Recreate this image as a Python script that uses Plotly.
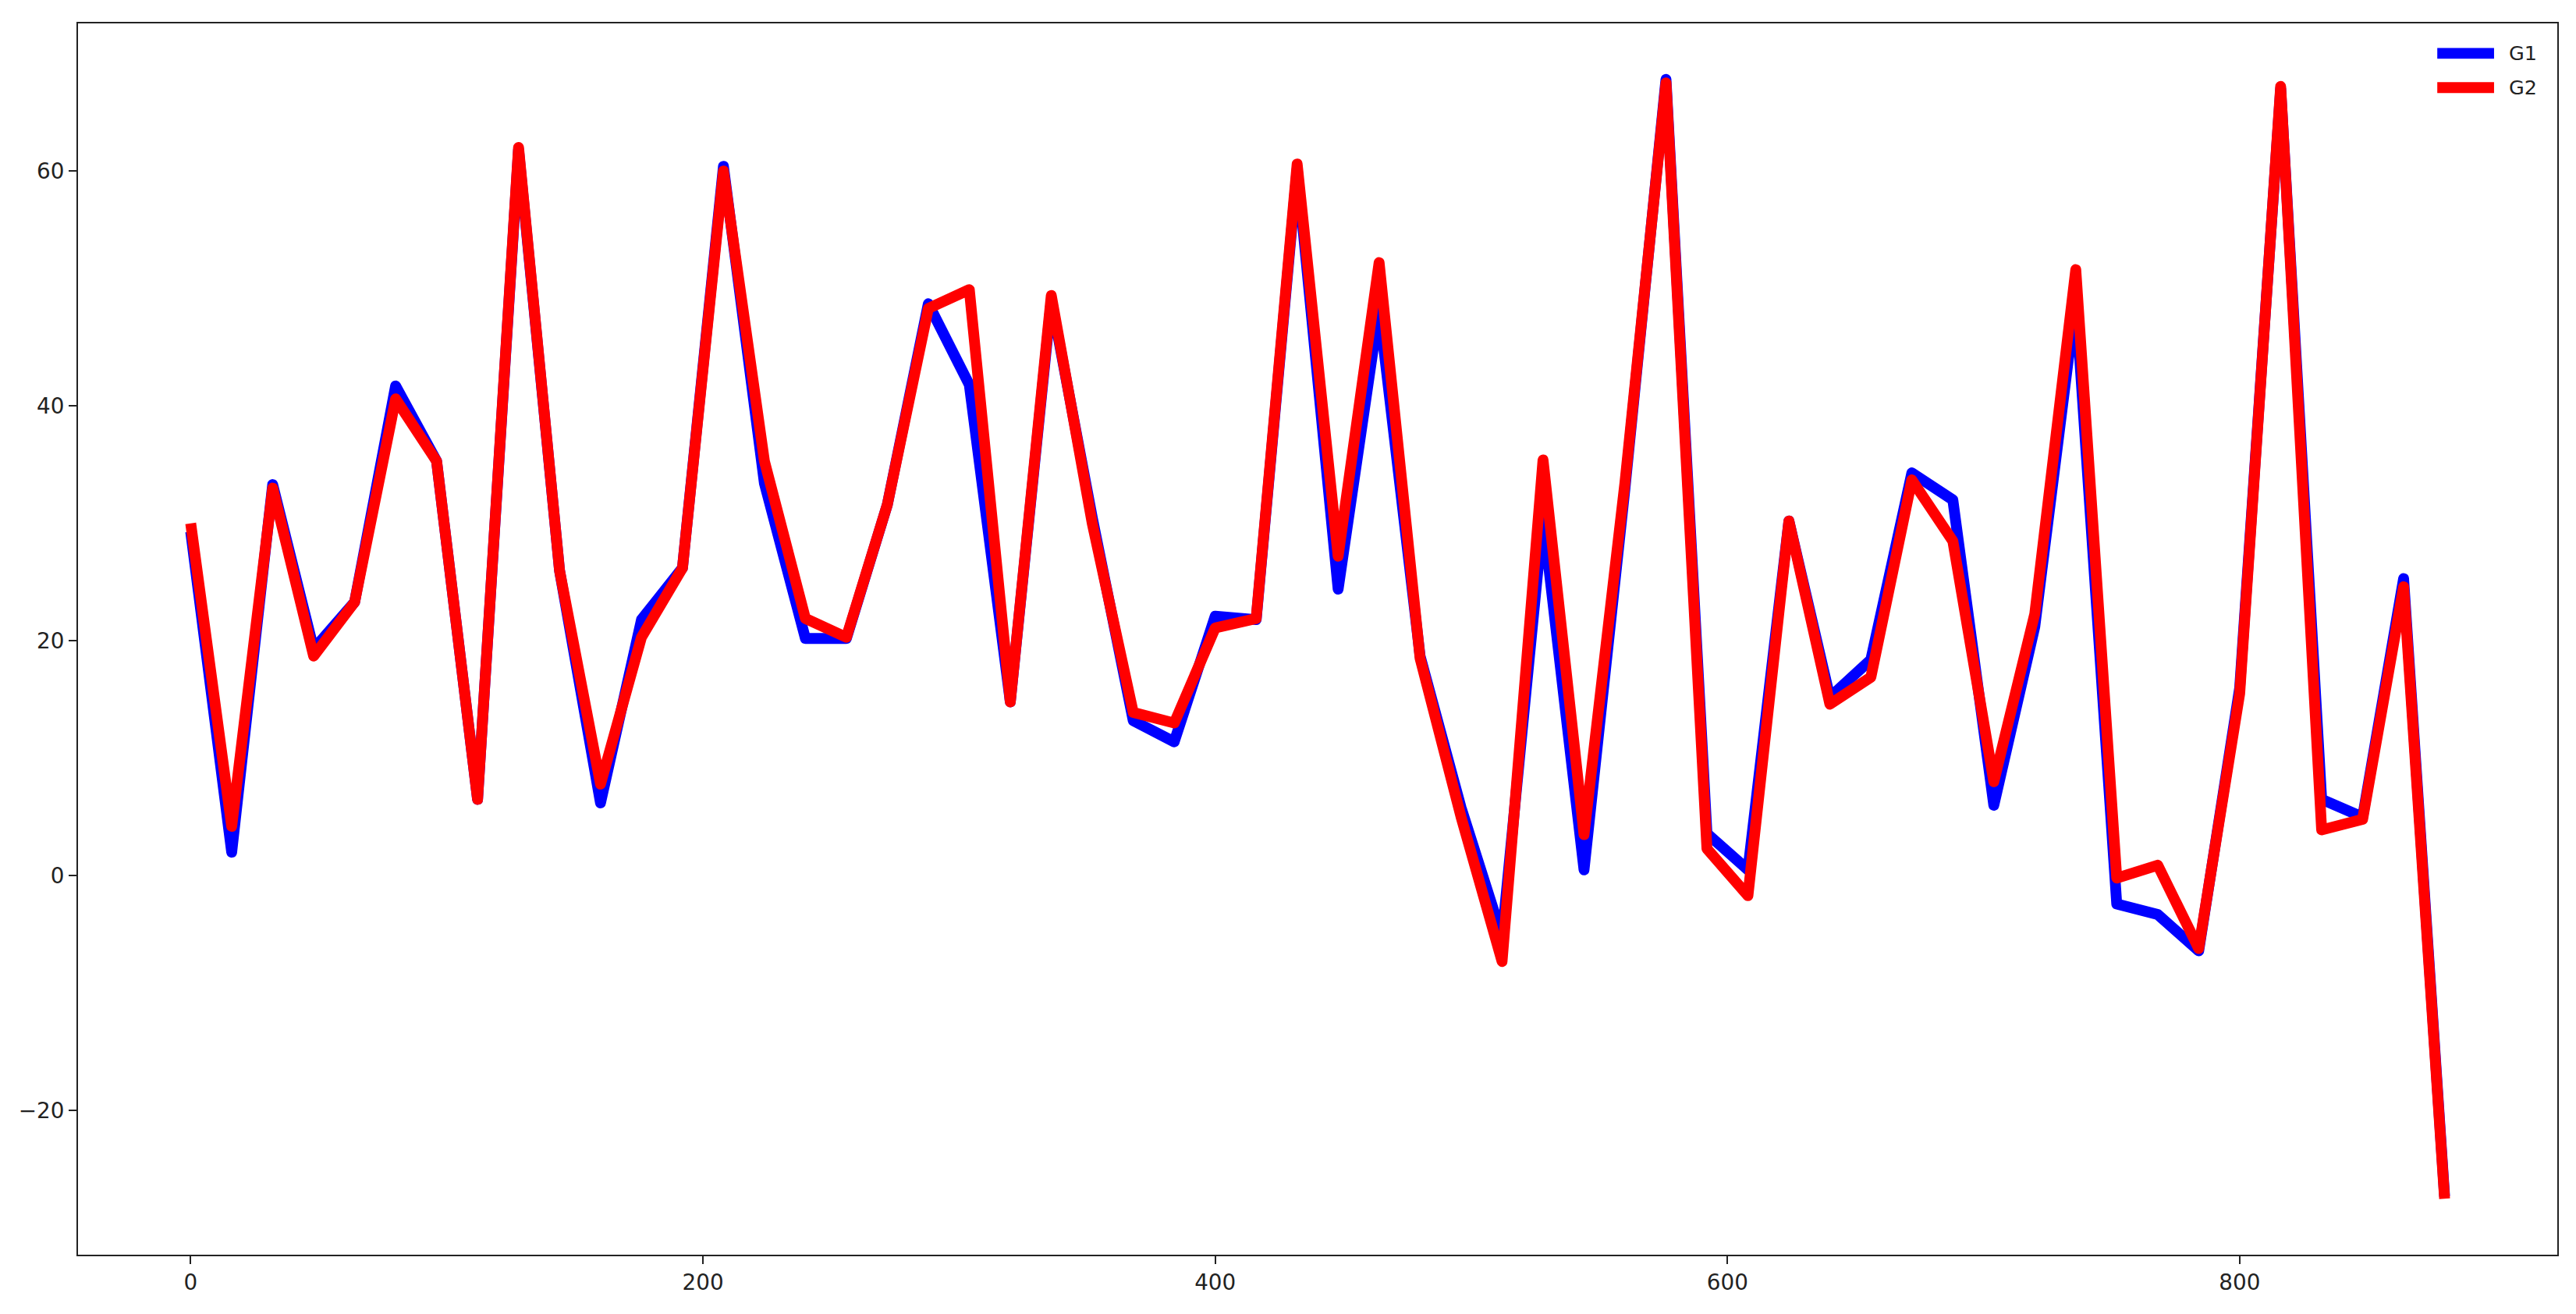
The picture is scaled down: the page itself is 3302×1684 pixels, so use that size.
import plotly.graph_objects as go

x_vals = [16 * i for i in range(56)]

g1 = [29.3, 2.0, 33.3, 19.3, 23.3, 41.7, 35.3, 6.5, 61.8, 26.0,
      6.2, 21.8, 26.2, 60.4, 33.4, 20.2, 20.2, 31.6, 48.7, 41.8,
      14.8, 49.0, 30.5, 13.2, 11.4, 22.1, 21.8, 60.2, 24.4, 48.3,
      18.7, 5.8, -5.2, 30.5, 0.5, 33.0, 67.8, 3.6, 0.5, 30.2,
      15.2, 18.4, 34.3, 32.0, 6.0, 21.2, 49.0, -2.4, -3.3, -6.4,
      16.0, 67.0, 6.5, 5.0, 25.3, -27.3]

g2 = [30.0, 4.2, 33.0, 18.7, 23.3, 40.6, 35.3, 6.5, 62.0, 26.0,
      7.8, 20.3, 26.2, 60.0, 35.3, 21.9, 20.3, 31.6, 48.3, 49.9,
      14.8, 49.4, 30.0, 13.9, 13.0, 21.1, 21.9, 60.6, 27.2, 52.2,
      18.5, 5.0, -7.3, 35.4, 3.5, 33.5, 67.5, 2.3, -1.7, 30.2,
      14.6, 16.9, 33.7, 28.5, 8.0, 22.3, 51.6, -0.2, 0.9, -6.2,
      15.5, 67.2, 3.9, 4.8, 24.6, -27.5]

series_names = ["G1", "G2"]
series_colors = ["#0000ff", "#ff0000"]
LW = 13.9

fig = go.Figure()
for name, ys, col in zip(series_names, [g1, g2], series_colors):
    fig.add_trace(go.Scatter(x=x_vals, y=ys, mode="lines", name=name,
                             line=dict(color=col, width=LW), showlegend=False))

# matplotlib-like 5% margins
xmin, xmax = min(x_vals), max(x_vals)
ymin, ymax = min(g1 + g2), max(g1 + g2)
xpad = 0.05 * (xmax - xmin)
ypad = 0.05 * (ymax - ymin)

axis_common = dict(showgrid=False, zeroline=False, showline=True, mirror=True,
                   linecolor="#222222", linewidth=2, ticks="outside",
                   ticklen=10, tickwidth=2, tickcolor="#222222",
                   tickfont=dict(family="DejaVu Sans", size=27.8, color="#222222"))

# legend drawn matplotlib-style (upper right, no frame)
leg_line_x0, leg_line_x1, leg_text_x = 0.9516, 0.9745, 0.9800
leg_rows_y = [0.9757, 0.9479]
shapes = []
annotations = []
for name, col, yy in zip(series_names, series_colors, leg_rows_y):
    shapes.append(dict(type="line", xref="paper", yref="paper",
                       x0=leg_line_x0, x1=leg_line_x1, y0=yy, y1=yy,
                       line=dict(color=col, width=LW)))
    annotations.append(dict(xref="paper", yref="paper", x=leg_text_x, y=yy,
                            xanchor="left", yanchor="middle", showarrow=False,
                            text=name,
                            font=dict(family="DejaVu Sans", size=25.5, color="#222222")))

fig.update_layout(
    width=3302, height=1684,
    margin=dict(l=100, r=24, t=30, b=76),
    paper_bgcolor="white", plot_bgcolor="white",
    font=dict(family="DejaVu Sans", color="#222222"),
    xaxis=dict(range=[xmin - xpad, xmax + xpad], tickvals=[0, 200, 400, 600, 800],
               ticktext=["0", "200", "400", "600", "800"], **axis_common),
    yaxis=dict(range=[ymin - ypad, ymax + ypad], tickvals=[-20, 0, 20, 40, 60],
               ticktext=["\u221220", "0", "20", "40", "60"], **axis_common),
    shapes=shapes,
    annotations=annotations,
    showlegend=False,
)

post = """
document.body.style.margin = '0';
function roundJoins(){
  document.querySelectorAll('.scatterlayer path.js-line').forEach(function(p){
    p.style.strokeLinejoin = 'round';
  });
}
roundJoins();
var gd = document.getElementsByClassName('plotly-graph-div')[0];
if (gd && gd.on) { gd.on('plotly_afterplot', roundJoins); }
"""

fig.write_html("out.html", post_script=post, config={"displayModeBar": False})
